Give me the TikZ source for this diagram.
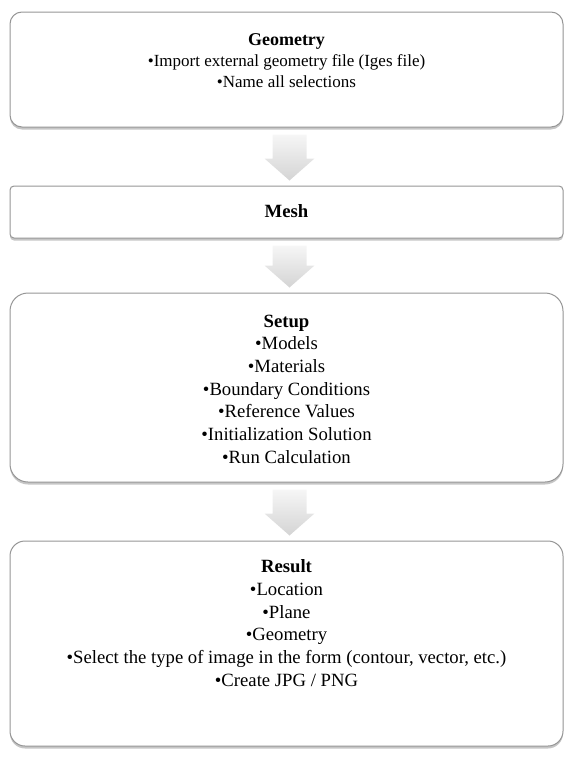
\documentclass[tikz,border=0pt]{standalone}
\usepackage{fontspec}
\setmainfont{Liberation Serif}
\usetikzlibrary{calc,shadows}
\definecolor{boxgray}{RGB}{150,150,150}
\definecolor{arrtop}{RGB}{246,246,246}
\definecolor{arrbot}{RGB}{212,212,212}
\newcommand\blockdown[2]{%
  \shade[top color=arrtop, bottom color=arrbot]
    ($(#1.south)+(-14,7)$) -- ($(#1.south)+(20,7)$) --
    ($(#2.north)+(20,-27)$) -- ($(#2.north)+(28,-27)$) --
    ($(#2.north)+(3,-5)$) --
    ($(#2.north)+(-22,-27)$) -- ($(#2.north)+(-14,-27)$) -- cycle;}
\begin{document}
\begin{tikzpicture}[x=1pt,y=-1pt,
  box/.style={draw=boxgray, line width=1pt, fill=white,
    minimum width=553pt, inner sep=0pt,
    drop shadow={shadow xshift=0pt, shadow yshift=-2.5pt, opacity=0.45, fill=gray}},
  txt/.style={align=center, inner sep=0pt, anchor=north},
  smalltxt/.style={txt, font=\fontsize{17}{21}\selectfont},
  bigtxt/.style={txt, font=\fontsize{18.7}{22.7}\selectfont}]
\useasboundingbox (0,0) rectangle (566,758);
\node[box, rounded corners=12pt, minimum height=115pt] (geo) at (286.5,69.5) {};
\node[smalltxt] (geotext) at ($(geo.north)+(0,22)$)
  {{\fontsize{18}{21}\selectfont\textbf{Geometry}}\\•Import external geometry file (Iges file)\\•Name all selections};
\node[box, rounded corners=4pt, minimum height=52pt] (mesh) at (286.5,212) {};
\node[bigtxt, anchor=center] (meshtext) at ($(mesh.center)+(0,-1)$) {\textbf{Mesh}};
\node[box, rounded corners=18pt, minimum height=189pt] (setup) at (286.5,387.5) {};
\node[bigtxt] (setuptext) at ($(setup.north)+(0,22)$)
  {\textbf{Setup}\\•Models\\•Materials\\•Boundary Conditions\\•Reference Values\\•Initialization Solution\\•Run Calculation};
\node[box, rounded corners=15pt, minimum height=205pt] (result) at (286.5,643.5) {};
\node[bigtxt] (resulttext) at ($(result.north)+(0,19)$)
  {\textbf{Result}\\•Location\\•Plane\\•Geometry\\•Select the type of image in the form (contour, vector, etc.)\\•Create JPG / PNG};
\blockdown{geo}{mesh}
\blockdown{mesh}{setup}
\blockdown{setup}{result}
\end{tikzpicture}
\end{document}
